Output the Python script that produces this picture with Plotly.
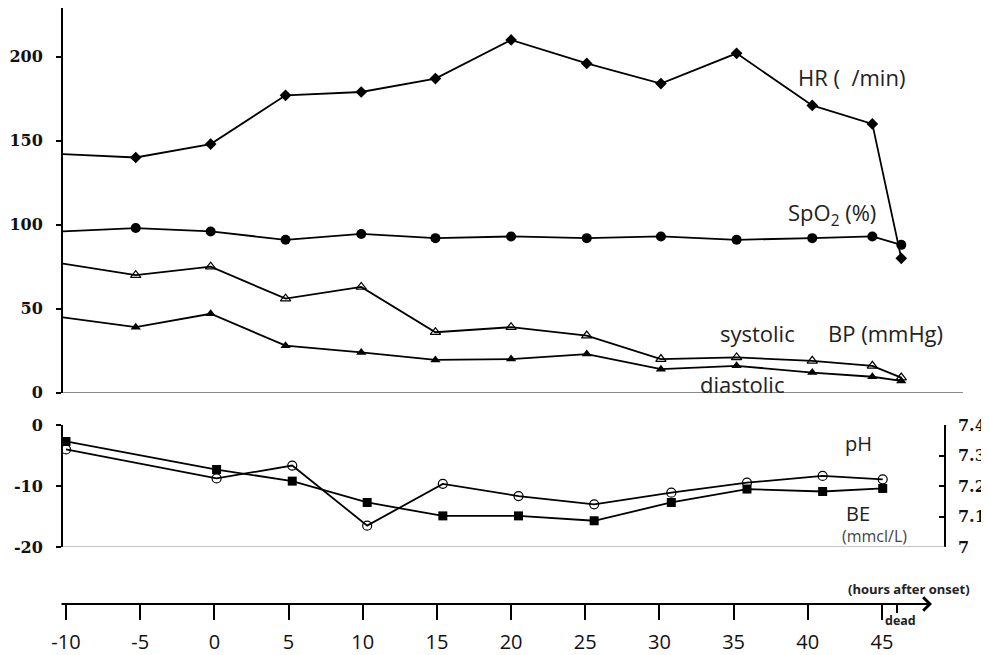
import plotly.graph_objects as go

# ---------------- data ----------------
hours_vitals = [-10.3, -5.3, -0.25, 4.8, 9.9, 14.9, 20.0, 25.1, 30.1, 35.2, 40.3, 44.35, 46.3]
hr = [142, 140, 148, 177, 179, 187, 210, 196, 184, 202, 171, 160, 80]
spo2 = [96, 98, 96, 91, 94.5, 92, 93, 92, 93, 91, 92, 93, 88]
systolic = [77, 70, 75, 56, 63, 36, 39, 34, 20, 21, 19, 16, 9]
diastolic = [45, 39, 47, 28, 24, 19.5, 20, 23, 14, 16, 12, 9.5, 7]

hours_blood = [-10.0, 0.15, 5.25, 10.3, 15.4, 20.5, 25.6, 30.8, 35.9, 41.0, 45.05]
be = [-2.7, -7.3, -9.2, -12.7, -14.9, -14.9, -15.7, -12.7, -10.5, -10.9, -10.4]
ph = [7.32, 7.225, 7.267, 7.07, 7.207, 7.167, 7.14, 7.178, 7.211, 7.233, 7.222]

x_ticks = [-10, -5, 0, 5, 10, 15, 20, 25, 30, 35, 40, 45]
x_labels = ["-10", "-5", "0", "5", "10", "15", "20", "25", "30", "35", "40", "45"]
dead_hour = 46
top_ticks = [0, 50, 100, 150, 200]
be_ticks = [0, -10, -20]
be_labels = ["0", "-10", "-20"]
ph_ticks = [7.0, 7.1, 7.2, 7.3, 7.4]
ph_labels = ["7", "7.1", "7.2", "7.3", "7.4"]

# ---------------- layout helpers ----------------
# the page body adds an 8px margin; work in reference pixels and subtract it
OFF = 8
W, H = 989 - OFF, 655 - OFF
L, T = 63 - OFF, 8 - OFF
PLOT_RIGHT, PLOT_BOTTOM = 963 - OFF, 604 - OFF
R, B = W - PLOT_RIGHT, H - PLOT_BOTTOM
PW, PH = PLOT_RIGHT - L, PLOT_BOTTOM - T


def px(xp):
    return (xp - OFF - L) / PW


def py(yp):
    return (PLOT_BOTTOM - (yp - OFF)) / PH


LINE = dict(color="black", width=1.8)
fig = go.Figure()

fig.add_trace(go.Scatter(x=hours_vitals, y=hr, mode="lines+markers", line=LINE,
                         marker=dict(symbol="diamond", size=9, color="black"),
                         cliponaxis=False, yaxis="y"))
fig.add_trace(go.Scatter(x=hours_vitals, y=spo2, mode="lines+markers", line=LINE,
                         marker=dict(symbol="circle", size=10, color="black"),
                         cliponaxis=False, yaxis="y"))
fig.add_trace(go.Scatter(x=hours_vitals, y=systolic, mode="lines+markers", line=LINE,
                         marker=dict(symbol="triangle-up-open", size=9, color="black",
                                     line=dict(width=1.2)),
                         cliponaxis=False, yaxis="y"))
fig.add_trace(go.Scatter(x=hours_vitals, y=diastolic, mode="lines+markers", line=LINE,
                         marker=dict(symbol="triangle-up", size=9, color="black"),
                         cliponaxis=False, yaxis="y"))
fig.add_trace(go.Scatter(x=hours_blood, y=be, mode="lines+markers", line=LINE,
                         marker=dict(symbol="square", size=9, color="black"),
                         cliponaxis=False, yaxis="y2"))
fig.add_trace(go.Scatter(x=hours_blood, y=ph, mode="lines+markers", line=LINE,
                         marker=dict(symbol="circle-open", size=9, color="black",
                                     line=dict(width=1.2)),
                         cliponaxis=False, yaxis="y3"))

PX_PER_H = 14.836
x_left = -10 - (66 - 63) / PX_PER_H
x_right = x_left + PW / PX_PER_H

serif = dict(family="DejaVu Serif", size=16, color="#111", weight="bold")
sans = "Open Sans"

fig.update_layout(
    width=W, height=H,
    margin=dict(l=L, r=R, t=T, b=B, autoexpand=False),
    paper_bgcolor="white", plot_bgcolor="white",
    showlegend=False,
    xaxis=dict(range=[x_left, x_right], anchor="free", position=0, automargin=False,
               showline=False, showgrid=False, zeroline=False,
               tickmode="array", tickvals=x_ticks, ticktext=x_labels, ticks="outside",
               ticklen=15, tickwidth=2, tickcolor="black", ticklabelstandoff=5,
               tickfont=dict(family=sans, size=20, color="#111"),
               minor=dict(tickmode="array", tickvals=[dead_hour], ticks="outside",
                          ticklen=8, tickwidth=1.5, tickcolor="black")),
    yaxis=dict(domain=[py(392.7), 1], range=[0, 229], tickvals=top_ticks,
               automargin=False,
               showline=True, linecolor="black", linewidth=2,
               ticks="outside", ticklen=5, tickwidth=1.5, tickcolor="black",
               ticklabelstandoff=10,
               showgrid=False, zeroline=True, zerolinecolor="#8a8a8a", zerolinewidth=1.2,
               tickfont=serif, anchor="x"),
    yaxis2=dict(domain=[py(547), py(425)], range=[-20, 0], tickvals=be_ticks,
                ticktext=be_labels, automargin=False,
                showline=True, linecolor="black", linewidth=2,
                ticks="outside", ticklen=5, tickwidth=1.5, tickcolor="black",
                ticklabelstandoff=10,
                showgrid=False, zeroline=False, tickfont=serif, anchor="x"),
    yaxis3=dict(overlaying="y2", side="right", anchor="free", position=px(945),
                range=[7.0, 7.4], tickvals=ph_ticks, ticktext=ph_labels,
                automargin=False,
                showline=True, linecolor="black", linewidth=1.5,
                ticks="inside", ticklen=5, tickwidth=1.5, tickcolor="black",
                ticklabelstandoff=9,
                showgrid=False, zeroline=False, tickfont=serif),
)

# bottom-panel baseline
fig.add_shape(type="line", xref="paper", yref="y2", x0=0, x1=px(945), y0=-20, y1=-20,
              line=dict(color="#8a8a8a", width=1.2))

# time-axis arrow
fig.add_annotation(x=-10 + (932 - 66) / PX_PER_H, y=0, xref="x", yref="paper",
                   ax=x_left - 0.2, ay=0, axref="x", ayref="pixel",
                   showarrow=True, arrowhead=4, arrowsize=1.3, arrowwidth=2,
                   arrowcolor="black", text="")


def label(text, xl, yc, size, bold=False, color="#222"):
    fig.add_annotation(x=px(xl), y=py(yc), xref="paper", yref="paper",
                       xanchor="left", yanchor="middle", showarrow=False,
                       text=text, borderpad=0,
                       font=dict(family=sans, size=size, color=color,
                                 weight="bold" if bold else "normal"))


label("HR (  /min)", 797, 77, 22)
label("SpO<sub>2</sub> (%)", 787, 214, 22)
label("systolic", 719, 333, 22)
label("BP (mmHg)", 827, 333, 22)
label("diastolic", 699, 384, 22)
label("pH", 844, 444, 20)
label("BE", 845, 513, 20)
label("(mmcl/L)", 841, 536, 16, color="#444")
label("(hours after onset)", 847, 589, 13, bold=True)
label("dead", 884, 620, 12.5, bold=True)

fig.write_html("out.html")
